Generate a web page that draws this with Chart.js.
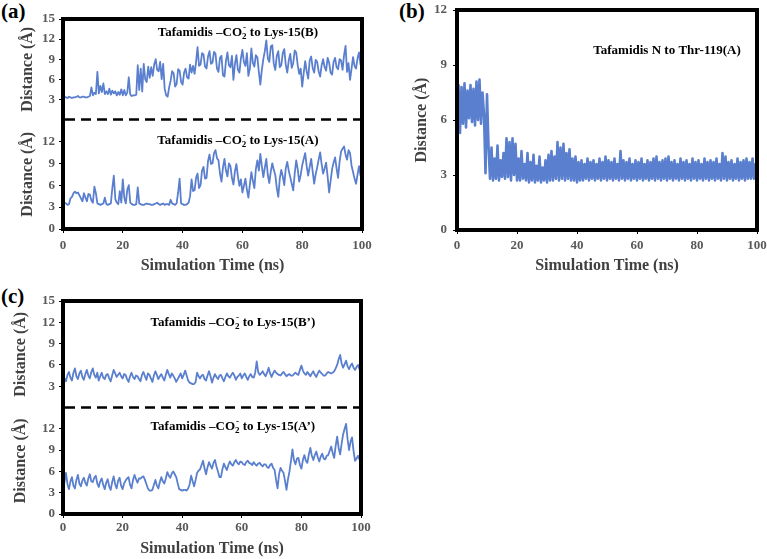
<!DOCTYPE html>
<html>
<head>
<meta charset="utf-8">
<script src="https://cdn.jsdelivr.net/npm/chart.js@4.4.0/dist/chart.umd.min.js"></script>
<style>
  body { margin: 0; background: #fff; width: 767px; height: 559px; position: relative; overflow: hidden; }
  .panel { position: absolute; }
  .tag { position: absolute; font: bold 21px "Liberation Serif", serif; line-height: 1; color: #000; }
</style>
</head>
<body>
<div class="tag" style="left:1px;top:1px">(a)</div>
<div class="tag" style="left:399px;top:1px">(b)</div>
<div class="tag" style="left:1px;top:286px">(c)</div>
<div class="panel" style="left:0;top:0;width:380px;height:280px"><canvas id="chartA"></canvas></div>
<div class="panel" style="left:390px;top:0;width:380px;height:280px"><canvas id="chartB"></canvas></div>
<div class="panel" style="left:0;top:280px;width:380px;height:279px"><canvas id="chartC"></canvas></div>
<script>
// sample times (ns), every 0.5 ns
const timeNs = Array.from({ length: 201 }, (_, i) => i * 0.5);

// (a) Tafamidis -CO2- to Lys-15(B)
const lysB = [3.3, 3.4, 3.3, 3.2, 3.4, 3.3, 3.2, 3.3, 3.3, 3.4,
  3.5, 3.3, 3.3, 3.4, 3.4, 3.3, 3.3, 3.4, 3.5, 4.8,
  3.6, 4.0, 3.8, 7.1, 3.9, 5.0, 4.1, 5.4, 3.8, 4.2,
  3.8, 4.6, 3.7, 4.3, 3.9, 4.2, 3.6, 4.1, 3.7, 4.5,
  3.6, 4.4, 3.6, 4.0, 6.3, 3.7, 3.5, 3.6, 3.6, 3.7,
  8.1, 4.4, 7.6, 4.2, 8.3, 6.0, 5.6, 7.9, 6.2, 7.8,
  6.5, 8.2, 9.0, 7.4, 7.2, 8.6, 6.0, 8.3, 4.6, 3.6,
  3.4, 4.8, 5.8, 7.2, 6.9, 4.9, 5.3, 7.5, 7.3, 5.6,
  5.2, 7.0, 7.6, 6.3, 6.1, 8.2, 7.0, 8.0, 6.8, 8.6,
  10.8, 8.0, 8.2, 9.9, 9.7, 7.9, 7.6, 9.4, 10.2, 8.3,
  8.5, 10.1, 9.8, 7.6, 7.1, 9.2, 9.5, 6.6, 6.4, 8.7,
  10.0, 8.1, 7.8, 9.5, 5.9, 8.3, 9.6, 7.4, 7.0, 9.1,
  10.4, 8.6, 8.0, 9.9, 6.5, 7.6, 10.6, 8.4, 7.9, 9.6,
  9.3, 7.1, 5.2, 7.4, 9.0, 10.2, 11.8, 9.1, 8.6, 10.9,
  11.1, 8.3, 7.4, 9.5, 10.2, 7.8, 8.1, 9.9, 10.5, 8.2,
  7.0, 8.8, 9.8, 7.7, 8.4, 10.3, 10.0, 8.1, 6.8, 7.6,
  4.9, 6.9, 8.7, 7.2, 6.1, 8.8, 9.4, 7.7, 7.0, 8.9,
  8.6, 7.2, 6.4, 8.1, 9.0, 7.8, 7.3, 9.2, 8.5, 7.0,
  6.7, 8.6, 9.2, 7.8, 7.5, 9.0, 8.8, 7.4, 9.6, 11.0,
  7.1, 8.4, 5.9, 7.6, 9.3, 8.0, 7.6, 9.1, 10.0, 8.2, 8.9];

// (a) Tafamidis -CO2- to Lys-15(A)
const lysA = [3.3, 3.6, 3.5, 3.3, 3.4, 4.2, 4.4, 4.9, 5.1, 4.9,
  5.0, 4.6, 4.2, 3.8, 4.9, 4.3, 3.8, 4.8, 4.7, 3.9,
  3.6, 5.8, 4.9, 3.5, 3.4, 3.3, 3.4, 3.5, 4.3, 3.4,
  3.3, 3.4, 3.5, 5.6, 7.3, 4.1, 3.6, 3.4, 5.2, 3.6,
  6.8, 4.3, 3.5, 5.4, 6.0, 3.6, 3.4, 3.3, 3.3, 3.4,
  5.7, 3.5, 3.4, 3.3, 3.3, 3.4, 3.5, 3.4, 3.4, 3.3,
  3.3, 3.4, 3.5, 3.6, 3.4, 3.3, 3.4, 3.5, 3.3, 3.4,
  3.4, 3.3, 4.0, 3.5, 3.4, 3.3, 3.5, 5.0, 6.9, 3.5,
  3.4, 3.3, 3.3, 3.4, 3.6, 4.5, 6.8, 5.2, 5.3, 7.0,
  7.6, 5.6, 6.0, 8.0, 8.5, 6.9, 7.0, 9.3, 10.2, 8.9,
  9.0, 10.4, 10.8, 9.7, 9.4, 7.6, 6.5, 8.4, 9.6, 8.0,
  7.2, 9.0, 8.6, 7.0, 6.1, 7.9, 8.9, 7.2, 5.9, 6.8,
  5.0, 5.9, 6.9, 5.4, 4.3, 6.1, 7.8, 6.6, 5.6, 8.2,
  9.4, 8.0, 10.3, 8.6, 7.1, 8.4, 9.6, 7.4, 6.3, 7.9,
  9.0, 8.1, 7.4, 5.6, 4.4, 6.9, 8.1, 7.2, 6.0, 8.3,
  9.2, 8.0, 7.1, 6.2, 5.3, 7.6, 9.4, 8.2, 6.5, 7.4,
  8.7, 9.6, 10.4, 8.6, 7.3, 8.5, 9.6, 7.9, 6.2, 7.5,
  8.4, 9.5, 10.5, 8.9, 7.6, 8.3, 9.1, 7.2, 5.0, 6.6,
  8.2, 9.1, 9.8, 8.3, 7.0, 9.2, 10.6, 11.0, 11.3, 10.2,
  9.5, 10.8, 10.4, 8.7, 7.8, 6.9, 6.2, 7.4, 8.6, 7.3, 9.0];

// (b) Tafamidis N to Thr-119(A)
const thrN = [5.0, 7.9, 5.3, 7.8, 5.8, 8.0, 5.6, 7.6, 6.1, 7.9,
  5.9, 7.7, 5.7, 8.1, 6.0, 8.2, 5.8, 7.5, 6.3, 3.1,
  7.4, 4.6, 2.8, 4.5, 2.7, 3.9, 2.8, 4.6, 2.7, 3.8,
  2.9, 4.2, 2.8, 5.0, 2.9, 4.8, 2.7, 5.0, 3.0, 4.7,
  2.7, 3.9, 2.7, 4.3, 2.8, 3.6, 2.7, 4.2, 2.6, 3.7,
  2.7, 4.1, 2.6, 3.5, 2.7, 4.0, 2.6, 3.4, 2.7, 3.8,
  2.6, 4.1, 2.7, 4.3, 2.7, 4.0, 2.8, 4.8, 2.7, 4.5,
  2.8, 4.7, 2.7, 4.2, 2.8, 4.4, 2.7, 3.9, 2.7, 4.0,
  2.6, 3.7, 2.7, 3.8, 2.7, 3.6, 2.8, 3.9, 2.7, 3.7,
  2.8, 3.8, 2.7, 3.6, 2.8, 3.9, 2.7, 3.7, 2.8, 4.0,
  2.7, 3.8, 2.8, 3.7, 2.7, 3.9, 2.8, 3.6, 2.7, 4.3,
  2.8, 3.8, 2.7, 3.7, 2.8, 3.9, 2.7, 3.6, 2.8, 3.8,
  2.7, 3.7, 2.8, 3.9, 2.7, 3.6, 2.8, 3.8, 2.7, 3.7,
  2.8, 3.9, 2.7, 4.0, 2.8, 3.7, 2.7, 3.8, 2.8, 3.9,
  2.7, 4.0, 2.8, 3.7, 2.7, 3.8, 2.8, 3.6, 2.7, 3.9,
  2.8, 3.7, 2.7, 3.8, 2.8, 3.6, 2.7, 3.9, 2.8, 3.7,
  2.7, 3.8, 2.8, 3.6, 2.7, 3.9, 2.8, 3.7, 2.7, 3.8,
  2.8, 3.7, 2.7, 3.9, 2.8, 3.6, 2.7, 4.2, 2.8, 4.0,
  2.7, 3.7, 2.8, 3.8, 2.7, 3.6, 2.8, 3.9, 2.7, 3.7,
  2.8, 3.8, 2.7, 3.9, 2.8, 3.7, 2.8, 3.9, 2.8, 3.6, 3.1];

// (c) Tafamidis -CO2- to Lys-15(B')
const lysBp = [4.8, 4.1, 3.7, 4.6, 5.0, 4.2, 3.8, 4.9, 5.5, 4.4,
  4.0, 4.8, 5.2, 4.3, 3.9, 4.7, 5.3, 4.5, 4.1, 5.0,
  5.5, 4.6, 4.2, 4.9, 3.8, 4.4, 4.9, 4.2, 4.0, 4.6,
  4.7, 4.1, 3.7, 4.5, 5.3, 4.8, 4.3, 4.6, 4.9, 4.4,
  4.1, 4.7, 4.6, 4.0, 3.6, 4.4, 4.9, 4.3, 4.0, 4.5,
  4.4, 4.0, 3.7, 4.6, 5.0, 4.4, 3.9, 4.8, 4.6, 4.1,
  3.6, 4.5, 5.1, 4.6, 4.0, 4.4, 4.7, 4.2, 3.8, 4.6,
  5.3, 4.7, 4.2, 4.8, 4.5, 4.1, 3.6, 4.0, 4.4, 4.8,
  4.1, 4.6, 5.2, 4.5, 3.8, 3.5, 3.4, 3.3, 3.3, 3.6,
  4.9, 4.4, 4.1, 4.5, 4.6, 4.0, 3.8, 4.5, 5.1, 4.4,
  3.5, 4.2, 4.7, 4.3, 4.0, 4.5, 4.6, 4.1, 3.7, 4.3,
  4.8, 4.4, 4.2, 4.6, 4.9, 4.5, 3.9, 4.3, 4.5, 4.8,
  4.1, 4.5, 4.8, 4.3, 3.9, 4.4, 4.7, 4.3, 4.2, 4.9,
  6.5, 5.0, 4.6, 4.8, 5.1, 4.7, 4.4, 4.9, 5.6, 4.8,
  4.3, 4.8, 5.2, 4.9, 4.7, 4.6, 4.5, 4.8, 5.0, 4.7,
  4.4, 4.6, 4.7, 4.5, 4.5, 4.7, 4.9, 4.7, 4.6, 5.3,
  5.9, 5.2, 4.8, 4.6, 5.0, 4.7, 4.4, 4.8, 5.1, 4.6,
  4.3, 4.8, 5.2, 4.9, 4.7, 4.5, 4.5, 4.8, 5.0, 4.9,
  4.8, 4.9, 5.1, 5.5, 6.0, 6.8, 7.4, 6.2, 5.6, 6.1,
  6.6, 5.8, 5.4, 5.9, 6.2, 5.6, 5.3, 5.7, 6.0, 5.4, 4.9];

// (c) Tafamidis -CO2- to Lys-15(A')
const lysAp = [3.6, 4.5, 5.8, 4.2, 3.5, 4.6, 5.2, 4.0, 3.6, 4.8,
  5.5, 4.3, 3.9, 4.7, 5.1, 4.4, 4.0, 5.0, 5.6, 4.6,
  4.5, 5.1, 5.4, 4.3, 3.8, 4.6, 5.0, 4.1, 3.5, 4.4,
  4.9, 3.9, 3.4, 4.5, 5.3, 4.2, 3.6, 4.7, 5.1, 4.0,
  3.5, 4.3, 4.7, 5.0, 5.2, 4.1, 3.6, 4.8, 5.5, 4.9,
  4.4, 5.0, 5.0, 5.2, 5.3, 4.8, 4.2, 3.6, 3.3, 3.3,
  3.4, 4.1, 4.8, 4.0, 3.6, 4.5, 5.2, 4.6, 4.3, 5.0,
  5.9, 5.4, 5.1, 5.7, 6.0, 5.6, 5.2, 4.3, 3.5, 3.4,
  3.3, 3.4, 3.4, 3.3, 3.6, 4.2, 5.4, 4.6, 3.9, 4.8,
  5.8, 6.1, 6.3, 6.9, 7.5, 6.4, 5.6, 6.6, 7.3, 6.8,
  6.4, 7.2, 7.6, 6.7, 6.0, 5.2, 5.2, 6.3, 7.1, 6.6,
  6.2, 6.9, 7.4, 7.0, 6.8, 7.3, 7.6, 7.2, 7.0, 7.4,
  7.3, 7.0, 6.9, 7.3, 7.5, 7.2, 7.1, 6.9, 7.3, 7.0,
  6.8, 7.1, 7.2, 6.9, 6.7, 7.0, 7.0, 6.6, 6.5, 6.9,
  7.1, 6.5, 6.2, 4.8, 3.6, 5.6, 6.5, 6.1, 5.8, 4.7,
  3.4, 4.9, 6.0, 7.5, 9.1, 7.6, 7.0, 7.8, 7.9, 6.9,
  6.4, 7.6, 8.3, 7.5, 7.2, 8.4, 9.3, 8.2, 7.6, 8.3,
  8.8, 8.0, 7.4, 8.1, 8.5, 7.8, 7.7, 8.2, 8.3, 8.9,
  9.5, 8.6, 7.9, 9.6, 10.9, 9.3, 8.4, 9.9, 11.2, 12.0,
  12.7, 10.5, 9.0, 10.2, 10.8, 8.9, 7.5, 7.8, 8.2, 7.7, 8.8];

const xTicks = [0, 20, 40, 60, 80, 100];
const yTicksTop = [3, 6, 9, 12, 15];
const yTicksBottom = [0, 3, 6, 9, 12];
const yTicksB = [0, 3, 6, 9, 12];

const lineColor = '#5A7FCF';
const serif = '"Liberation Serif", "Times New Roman", serif';
const tickFont = { family: serif, size: 13, weight: 'bold' };
const titleFont = { family: serif, size: 16, weight: 'bold' };

function points(times, values) {
  return times.map((t, i) => ({ x: t, y: values[i] }));
}

function noPadding(scale) {
  scale.paddingTop = 0;
  scale.paddingBottom = 0;
  scale.paddingLeft = 0;
  scale.paddingRight = 0;
}

// draws "Tafamidis –CO₂⁻ ..." style labels with sub/superscripts
function drawNote(ctx, chart, note) {
  const x = chart.scales.x.getPixelForValue(note.x);
  const y = chart.scales[note.axis].getPixelForValue(note.y);
  const main = 'bold 13px ' + serif;
  const small = 'bold 9px ' + serif;
  ctx.save();
  ctx.fillStyle = '#000';
  ctx.textBaseline = 'middle';
  ctx.textAlign = 'left';
  const widths = note.parts.map(p => {
    if (typeof p === 'string') { ctx.font = main; return ctx.measureText(p).width; }
    ctx.font = small;
    return Math.max(ctx.measureText(p.sub).width, ctx.measureText(p.sup).width + 1);
  });
  let cx = x - widths.reduce((a, b) => a + b, 0) / 2;
  note.parts.forEach((p, i) => {
    if (typeof p === 'string') {
      ctx.font = main;
      ctx.fillText(p, cx, y);
    } else {
      ctx.font = small;
      ctx.fillText(p.sub, cx, y + 4);
      ctx.fillText(p.sup, cx + 1, y - 5);
    }
    cx += widths[i];
  });
  ctx.restore();
}

const framePlugin = {
  id: 'frame',
  afterDraw(chart, args, opts) {
    const { ctx, chartArea: a } = chart;
    ctx.save();
    ctx.strokeStyle = '#000';
    ctx.lineWidth = 4;
    ctx.strokeRect(a.left, a.top, a.right - a.left, a.bottom - a.top);
    if (opts.split) {
      const y = chart.scales[opts.split].bottom;
      ctx.lineWidth = 2.5;
      ctx.setLineDash([10, 6]);
      ctx.beginPath();
      ctx.moveTo(a.left + 2, y);
      ctx.lineTo(a.right - 2, y);
      ctx.stroke();
    }
    ctx.restore();
    (opts.notes || []).forEach(n => drawNote(ctx, chart, n));
  }
};

function xScale(labelPad, height, titlePad) {
  return {
    type: 'linear', min: 0, max: 100,
    afterBuildTicks: s => { s.ticks = xTicks.map(v => ({ value: v })); },
    ticks: { font: tickFont, color: '#595959', padding: labelPad, autoSkip: false, maxRotation: 0 },
    grid: { display: true, drawOnChartArea: false, drawTicks: true, tickLength: 4, color: '#000' },
    border: { display: false },
    title: { display: true, text: 'Simulation Time (ns)', font: titleFont, color: '#404040', padding: { top: 0, bottom: titlePad } },
    afterFit: s => { s.height = height; noPadding(s); }
  };
}

function yScale(extra, tickList, width, titlePad, labelPad) {
  return Object.assign({
    type: 'linear', position: 'left',
    afterBuildTicks: s => { s.ticks = tickList.map(v => ({ value: v })); },
    ticks: { font: tickFont, color: '#595959', padding: labelPad, autoSkip: false },
    grid: { display: true, drawOnChartArea: false, drawTicks: true, tickLength: 4, color: '#000' },
    border: { display: false },
    title: { display: true, text: 'Distance (Å)', font: titleFont, color: '#404040', padding: { top: titlePad, bottom: 0 } },
    afterFit: s => { s.width = width; noPadding(s); }
  }, extra);
}

function lineSet(values, axis, width) {
  return {
    data: points(timeNs, values), yAxisID: axis,
    borderColor: lineColor, borderWidth: width, pointRadius: 0,
    borderJoinStyle: 'round', tension: 0, fill: false
  };
}

const common = {
  responsive: true, maintainAspectRatio: false, animation: false,
  parsing: false, normalized: true,
  events: [],
  plugins: { legend: { display: false }, tooltip: { enabled: false } }
};

// panel (a): stacked axes, the later-defined one is placed on top
new Chart(document.getElementById('chartA'), {
  type: 'line',
  data: { datasets: [lineSet(lysB, 'yTop', 1.8), lineSet(lysA, 'yBot', 1.8)] },
  options: Object.assign({}, common, {
    layout: { padding: { left: 0, top: 19, right: 18, bottom: 5 } },
    scales: {
      x: xScale(5, 46, 0),
      yBot: yScale({ stack: 'a', stackWeight: 109, min: 0, max: 15 }, yTicksBottom, 63, 18, 4),
      yTop: yScale({ stack: 'a', stackWeight: 100, min: 0, max: 15 }, yTicksTop, 63, 18, 4)
    },
    plugins: Object.assign({}, common.plugins, {
      frame: {
        split: 'yTop',
        notes: [
          { x: 58.5, y: 13.0, axis: 'yTop', parts: ['Tafamidis –CO', { sub: '2', sup: '-' }, ' to Lys-15(B)'] },
          { x: 58.5, y: 12.1, axis: 'yBot', parts: ['Tafamidis –CO', { sub: '2', sup: '-' }, ' to Lys-15(A)'] }
        ]
      }
    })
  }),
  plugins: [framePlugin]
});

// panel (b)
new Chart(document.getElementById('chartB'), {
  type: 'line',
  data: { datasets: [lineSet(thrN, 'y', 2.6)] },
  options: Object.assign({}, common, {
    layout: { padding: { left: 0, top: 10, right: 13, bottom: 5 } },
    scales: {
      x: xScale(4, 45, 0),
      y: yScale({ min: 0, max: 12 }, yTicksB, 67, 22, 6)
    },
    plugins: Object.assign({}, common.plugins, {
      frame: {
        notes: [
          { x: 70, y: 9.76, axis: 'y', parts: ['Tafamidis N to Thr-119(A)'] }
        ]
      }
    })
  }),
  plugins: [framePlugin]
});

// panel (c)
new Chart(document.getElementById('chartC'), {
  type: 'line',
  data: { datasets: [lineSet(lysBp, 'yTop', 1.8), lineSet(lysAp, 'yBot', 1.8)] },
  options: Object.assign({}, common, {
    layout: { padding: { left: 0, top: 21, right: 19, bottom: 1 } },
    scales: {
      x: xScale(2, 44, 0),
      yBot: yScale({ stack: 'c', stackWeight: 1, min: 0, max: 15 }, yTicksBottom, 63, 11, 4),
      yTop: yScale({ stack: 'c', stackWeight: 1, min: 0, max: 15 }, yTicksTop, 63, 11, 4)
    },
    plugins: Object.assign({}, common.plugins, {
      frame: {
        split: 'yTop',
        notes: [
          { x: 57, y: 12.0, axis: 'yTop', parts: ['Tafamidis –CO', { sub: '2', sup: '-' }, ' to Lys-15(B’)'] },
          { x: 57, y: 12.3, axis: 'yBot', parts: ['Tafamidis –CO', { sub: '2', sup: '-' }, ' to Lys-15(A’)'] }
        ]
      }
    })
  }),
  plugins: [framePlugin]
});
</script>
</body>
</html>
